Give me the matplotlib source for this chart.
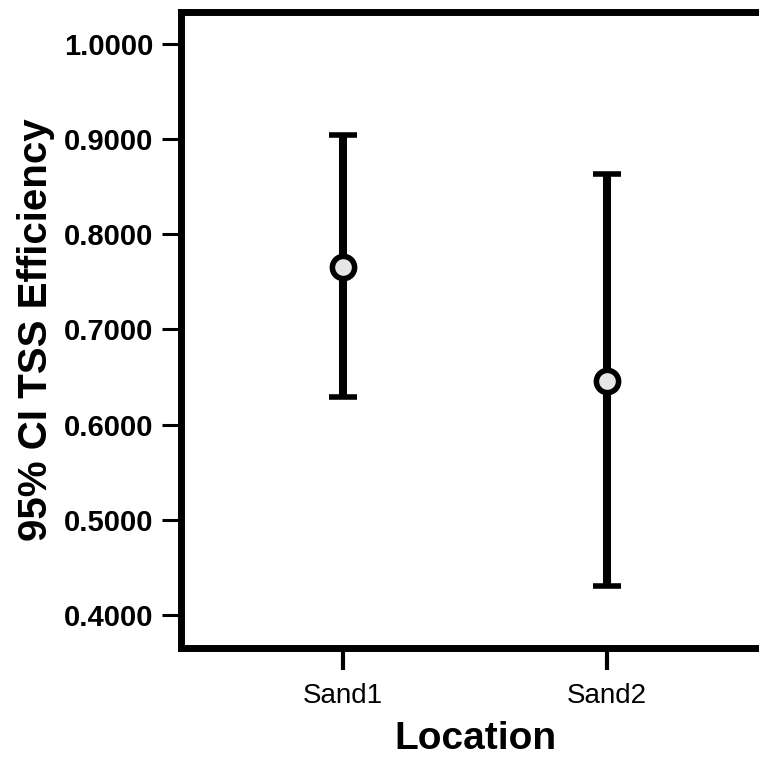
import matplotlib

matplotlib.use("Agg")
import matplotlib.pyplot as plt
import numpy as np

# 95% CI of TSS efficiency by location
locations = ["Sand1", "Sand2"]
means = [0.7655, 0.6460]
lower = [0.6290, 0.4300]
upper = [0.9040, 0.8630]
yticks = [0.4, 0.5, 0.6, 0.7, 0.8, 0.9, 1.0]

plt.rcParams["font.family"] = ["Liberation Sans", "DejaVu Sans"]

fig = plt.figure(figsize=(7.59, 7.63), dpi=100)
ax = fig.add_axes([0.2385, 0.1507, 0.776, 0.8336])

x = np.arange(1, len(locations) + 1)
m = np.array(means)
yerr = [m - np.array(lower), np.array(upper) - m]
ax.errorbar(
    x, m, yerr=yerr, fmt="o", color="black", ecolor="black",
    elinewidth=5.8, capsize=10, capthick=3.8,
    markersize=16, markerfacecolor="#e6e6e6", markeredgecolor="black",
    markeredgewidth=4,
)

ax.set_xlim(0.386, 2.617)
ax.set_ylim(0.3653, 1.0336)
ax.set_xticks(x)
ax.set_xticklabels(locations, fontsize=20)
ax.set_yticks(yticks)
ax.set_yticklabels([f"{v:.4f}" for v in yticks], fontsize=21, fontweight="bold")

for side in ["left", "bottom", "top"]:
    ax.spines[side].set_linewidth(5)
ax.spines["right"].set_visible(False)

ax.tick_params(axis="y", length=14, width=2.2, pad=6)
ax.tick_params(axis="x", length=16, width=3, pad=9)

ax.set_xlabel("Location", fontsize=28, fontweight="bold", labelpad=9)
ax.set_ylabel("95% CI TSS Efficiency", fontsize=29, fontweight="bold", labelpad=6)

fig.savefig("out.png", dpi=100)
